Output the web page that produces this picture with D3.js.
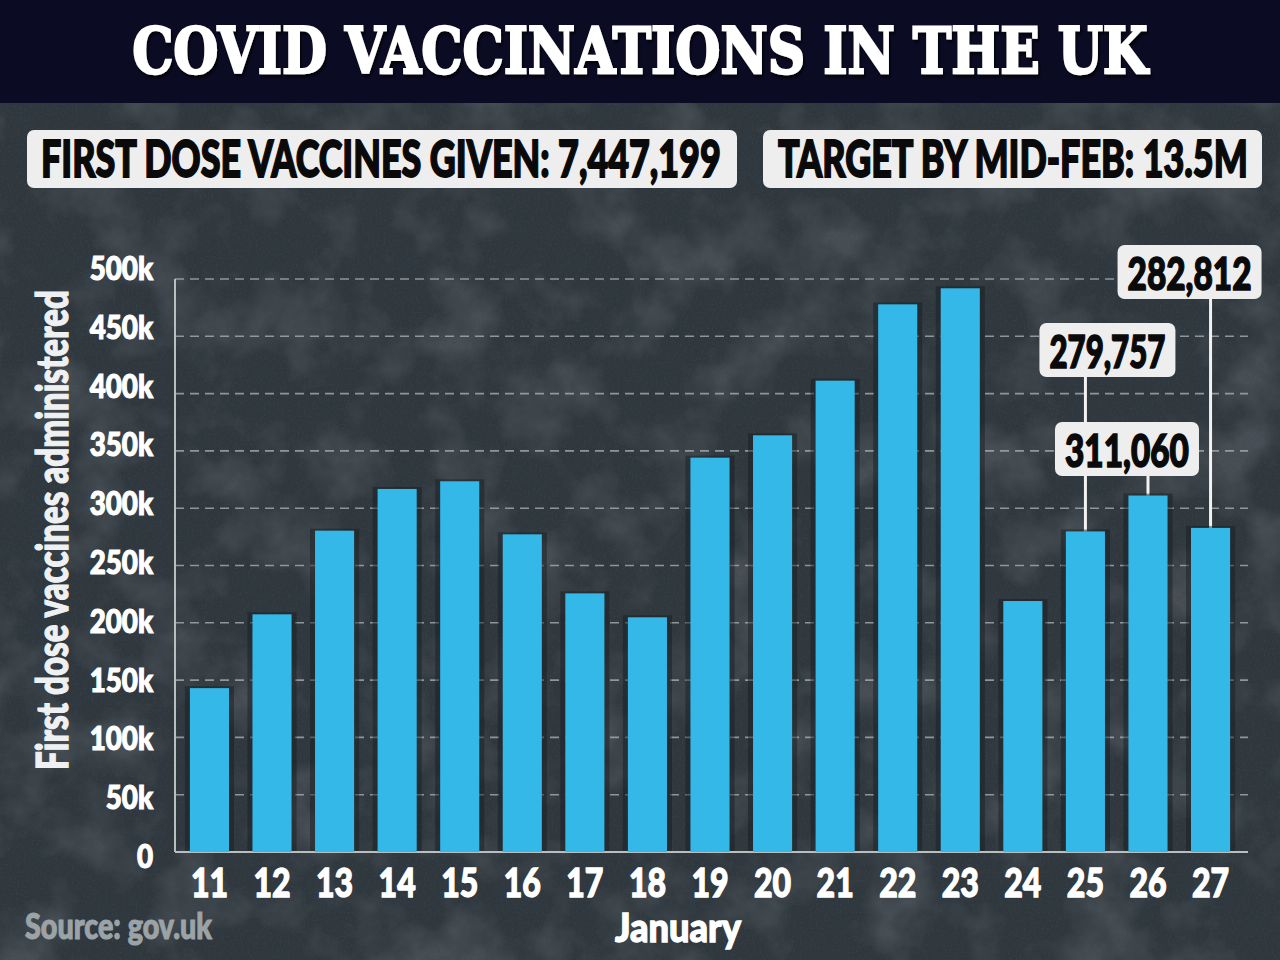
<!DOCTYPE html>
<html><head><meta charset="utf-8">
<script src="https://cdn.jsdelivr.net/npm/d3@7"></script>
<style>body{margin:0;background:#2c353b}svg{display:block}</style>
</head><body>
<svg id="c" width="1280" height="960"></svg>
<script>
// ---------- data ----------
const days = ["11","12","13","14","15","16","17","18","19","20","21","22","23","24","25","26","27"];
const firstDoses = [143000, 207400, 280400, 316800, 323500, 277200, 225700, 204800, 344100, 363600, 411300, 477900, 491900, 219000, 279757, 311060, 282812];
const yTicks = [0, 50000, 100000, 150000, 200000, 250000, 300000, 350000, 400000, 450000, 500000];
const annotatedDays = ["25","26","27"];
const titleText = "COVID VACCINATIONS IN THE UK";
const headlineTexts = ["FIRST DOSE VACCINES GIVEN: 7,447,199", "TARGET BY MID-FEB: 13.5M"];
const yTitle = "First dose vaccines administered";
const xTitle = "January";
const sourceText = "Source: gov.uk";

// ---------- layout ----------
const W = 1280, H = 960;
const plot = {left: 175, right: 1248, top: 279, bottom: 852};
const heavy = "Lato, 'Open Sans', 'Liberation Sans', sans-serif";
const svg = d3.select("#c");

// draw text and squeeze it horizontally with a transform so its box is real
function fitText(parent, txt, opt) {
  const t = parent.append("text").attr("x",0).attr("y",0)
    .attr("text-anchor", opt.anchor || "start")
    .attr("font-family", opt.family || heavy).attr("font-weight", opt.weight || 900)
    .attr("font-size", opt.size).attr("fill", opt.fill)
    .attr("stroke", opt.stroke || "none").attr("stroke-width", opt.sw || 0)
    .text(txt);
  const n = t.node().getComputedTextLength();
  const sx = opt.width ? opt.width / n : (opt.factor || 1);
  t.attr("transform", `translate(${opt.x},${opt.y})${opt.rotate ? ` rotate(${opt.rotate})` : ""} scale(${sx},1)`);
  if (opt.filter) t.attr("filter", opt.filter);
  return t;
}

const defs = svg.append("defs");
const f = defs.append("filter").attr("id","grunge").attr("x",0).attr("y",0).attr("width","100%").attr("height","100%");
f.append("feTurbulence").attr("type","fractalNoise").attr("baseFrequency","0.014").attr("numOctaves",5).attr("seed",7).attr("result","n");
f.append("feColorMatrix").attr("in","n").attr("type","matrix")
 .attr("values","0 0 0 0 0.07  0 0 0 0 0.085  0 0 0 0 0.10  -3 0 0 0 1.65");
const f2 = defs.append("filter").attr("id","speck").attr("x",0).attr("y",0).attr("width","100%").attr("height","100%");
f2.append("feTurbulence").attr("type","fractalNoise").attr("baseFrequency","0.5").attr("numOctaves",2).attr("seed",3).attr("result","n");
f2.append("feColorMatrix").attr("in","n").attr("type","matrix")
 .attr("values","0 0 0 0 0.05  0 0 0 0 0.06  0 0 0 0 0.07  -3 0 0 0 1.6");
const sh = defs.append("filter").attr("id","tshadow").attr("x","-5%").attr("y","-20%").attr("width","110%").attr("height","150%");
sh.append("feDropShadow").attr("dx",2).attr("dy",3).attr("stdDeviation",1.5).attr("flood-color","#000").attr("flood-opacity",0.7);

// background
svg.append("rect").attr("width",W).attr("height",H).attr("fill","#2f383e");
svg.append("rect").attr("width",W).attr("height",H).attr("filter","url(#grunge)").attr("opacity",0.9);
svg.append("rect").attr("width",W).attr("height",H).attr("filter","url(#speck)").attr("opacity",0.5);

// title bar
svg.append("rect").attr("x",0).attr("y",0).attr("width",W).attr("height",103).attr("fill","#0b0b24");
fitText(svg, titleText, {x:640, y:73, anchor:"middle", family:"'DejaVu Serif', 'Liberation Serif', serif",
  weight:"bold", size:64, fill:"#ffffff", stroke:"#ffffff", sw:2.4, width:1016, filter:"url(#tshadow)"});

// headline pills
const pills = [{x:27, w:710, tx:41, tw:680}, {x:763, w:499, tx:778, tw:470}];
pills.forEach((p,i)=>{
  svg.append("rect").attr("x",p.x).attr("y",130).attr("width",p.w).attr("height",58).attr("rx",7)
    .attr("fill","#eeeeee");
  fitText(svg, headlineTexts[i], {x:p.tx, y:177, size:52, fill:"#0a0a0a", stroke:"#0a0a0a", sw:1.8, width:p.tw});
});

// scales
const x = d3.scaleBand().domain(days).range([178, 1242]).paddingInner(0.375).paddingOuter(0.19);
const y = d3.scaleLinear().domain([0, 500000]).range([plot.bottom, plot.top]);
const yLab = d3.scaleLinear().domain([0, 500000]).range([856, 268]);

// gridlines
svg.append("g").selectAll("line").data(yTicks.filter(d=>d>0)).join("line")
  .attr("x1",plot.left).attr("x2",plot.right).attr("y1",d=>y(d)).attr("y2",d=>y(d))
  .attr("stroke","#a7adb1").attr("stroke-width",1.6).attr("stroke-dasharray","9,6").attr("opacity",0.8);

// axes lines
svg.append("line").attr("x1",plot.left).attr("x2",plot.left).attr("y1",plot.top).attr("y2",plot.bottom)
  .attr("stroke","#b9bec1").attr("stroke-width",2);
svg.append("line").attr("x1",plot.left).attr("x2",plot.right).attr("y1",plot.bottom).attr("y2",plot.bottom)
  .attr("stroke","#b9bec1").attr("stroke-width",2);

// annotation leader lines
const annLayout = {"25":{dx:22, top:323, w:136}, "26":{dx:-21, top:422, w:144}, "27":{dx:-21, top:245, w:144}};
const annData = annotatedDays.map(d=>({day:d, v:firstDoses[days.indexOf(d)]}));
const cx = d => x(d) + x.bandwidth()/2;
svg.append("g").selectAll("line").data(annData).join("line")
  .attr("x1",d=>cx(d.day)).attr("x2",d=>cx(d.day))
  .attr("y1",d=>annLayout[d.day].top+50).attr("y2",d=>y(d.v))
  .attr("stroke","#f2f2f2").attr("stroke-width",3);

// bars
const bars = svg.append("g");
bars.selectAll("rect.sh").data(days).join("rect").attr("class","sh")
  .attr("x",d=>x(d)-5).attr("width",x.bandwidth()+10)
  .attr("y",(d,i)=>y(firstDoses[i])-2).attr("height",(d,i)=>plot.bottom-y(firstDoses[i])+1)
  .attr("fill","#161b1f").attr("opacity",0.45);
bars.selectAll("rect.b").data(days).join("rect").attr("class","b")
  .attr("x",d=>x(d)).attr("width",x.bandwidth())
  .attr("y",(d,i)=>y(firstDoses[i])).attr("height",(d,i)=>plot.bottom-y(firstDoses[i]))
  .attr("fill","#33b8e7");

// annotation boxes
const fmt = d3.format(",");
const annG = svg.append("g");
annData.forEach(d=>{
  const L = annLayout[d.day], bx = cx(d.day) + L.dx;
  annG.append("rect").attr("x",bx - L.w/2).attr("y",L.top).attr("width",L.w).attr("height",54)
    .attr("rx",7).attr("fill","#eeeeee");
  fitText(annG, fmt(d.v), {x:bx, y:L.top+45, anchor:"middle", size:46, fill:"#0a0a0a", stroke:"#0a0a0a", sw:1.6, width:L.w-20});
});

// y tick labels
const ytG = svg.append("g");
yTicks.forEach(d=>{
  fitText(ytG, d===0 ? "0" : (d/1000)+"k", {x:153, y:yLab(d)+12, anchor:"end", size:33,
    fill:"#ffffff", stroke:"#ffffff", sw:1.2, factor:0.84});
});

// x tick labels
const xtG = svg.append("g");
days.forEach(d=>{
  fitText(xtG, d, {x:cx(d), y:897, anchor:"middle", size:40, fill:"#ffffff", stroke:"#ffffff", sw:1.3, factor:0.8});
});

// axis titles and source
fitText(svg, yTitle, {x:68, y:530, rotate:-90, anchor:"middle", size:43, fill:"#eef0f1", stroke:"#eef0f1", sw:1.3, width:480});
fitText(svg, xTitle, {x:678, y:942, anchor:"middle", size:40, fill:"#ffffff", stroke:"#ffffff", sw:1.3, width:126});
fitText(svg, sourceText, {x:25, y:939, size:36, fill:"#9ca3a7", stroke:"#9ca3a7", sw:1.1, width:187});
</script>
</body></html>
